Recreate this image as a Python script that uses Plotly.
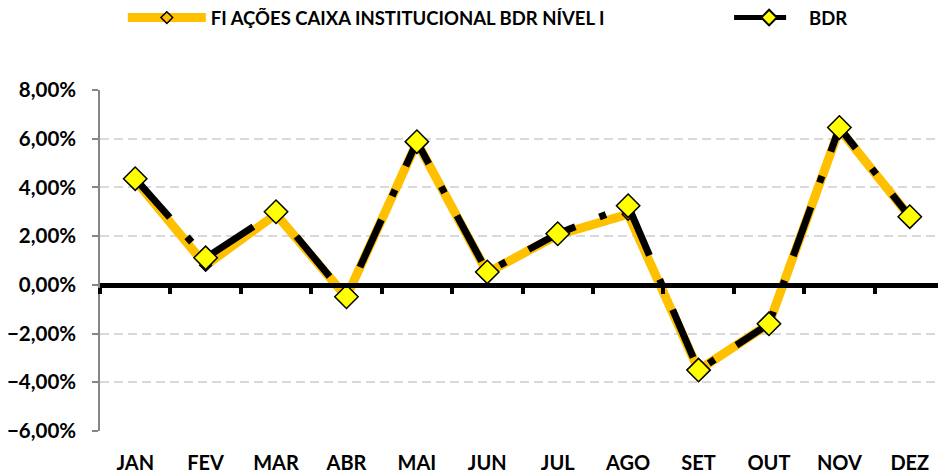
import plotly.graph_objects as go

months = ["JAN", "FEV", "MAR", "ABR", "MAI", "JUN", "JUL", "AGO", "SET", "OUT", "NOV", "DEZ"]
fi_values = [0.0430, 0.0080, 0.0290, -0.0050, 0.0585, 0.0050, 0.0205, 0.0290, -0.0350, -0.0160, 0.0640, 0.0280]
bdr_values = [0.0436, 0.0111, 0.0300, -0.0049, 0.0588, 0.0053, 0.0210, 0.0325, -0.0350, -0.0160, 0.0646, 0.0280]
y_ticks = [0.08, 0.06, 0.04, 0.02, 0.0, -0.02, -0.04, -0.06]

FONT = "Lato"
y_min, y_max = -0.06, 0.08
zero_pos = (0 - y_min) / (y_max - y_min)

fig = go.Figure()
fig.add_trace(go.Scatter(
    x=months, y=fi_values, name="FI AÇÕES CAIXA INSTITUCIONAL BDR NÍVEL I",
    mode="lines+markers",
    line=dict(color="#FFC000", width=9),
    marker=dict(symbol="diamond", size=9, color="#FFC000", line=dict(color="black", width=1.5)),
    legend="legend",
))
fig.add_trace(go.Scatter(
    x=months, y=bdr_values, name="BDR",
    mode="lines+markers",
    line=dict(color="black", width=7, dash="52px,26px,7px,26px"),
    marker=dict(symbol="diamond", size=18, color="#FFFF00", line=dict(color="black", width=1.5)),
    legend="legend2",
))
fig.add_trace(go.Scatter(
    x=months, y=[0] * len(months), xaxis="x2", mode="lines",
    line=dict(width=0), opacity=0, showlegend=False, hoverinfo="skip",
))

fig.update_layout(
    width=938, height=468,
    margin=dict(l=92, r=1, t=82, b=45, autoexpand=False),
    paper_bgcolor="white", plot_bgcolor="white",
    separators=",.",
    font=dict(family=FONT, size=18, color="black"),
    xaxis=dict(
        type="category", categoryarray=months, range=[-0.5, 11.5],
        showgrid=False, showline=False, ticks="", zeroline=False,
        tickfont=dict(family=FONT, size=20, weight="bold"),
        ticklabelstandoff=18,
    ),
    xaxis2=dict(
        type="category", categoryarray=months, range=[-0.5, 11.5],
        overlaying="x", anchor="free", position=zero_pos,
        showgrid=False, showline=True, linecolor="black", linewidth=5,
        ticks="outside", tickson="boundaries", ticklen=6, tickwidth=4, tickcolor="black",
        showticklabels=False, zeroline=False,
    ),
    yaxis=dict(
        range=[y_min, y_max], tickvals=y_ticks, tickformat=".2%",
        showgrid=True, gridcolor="#D9D9D9", gridwidth=2, griddash="9px,5px",
        showline=True, linecolor="#868686", linewidth=1.5,
        ticks="outside", ticklen=6, tickcolor="#868686", tickwidth=1.5,
        zeroline=False,
        tickfont=dict(family=FONT, size=20.5, weight="bold"),
        ticklabelstandoff=12,
    ),
    legend=dict(
        orientation="h", x=0.027, y=1.211, xanchor="left", yanchor="middle",
        font=dict(family=FONT, size=18.5, weight="bold"), itemwidth=78,
        bgcolor="rgba(0,0,0,0)",
    ),
    legend2=dict(
        orientation="h", x=0.7445, y=1.211, xanchor="left", yanchor="middle",
        font=dict(family=FONT, size=18.5, weight="bold"), itemwidth=70,
        itemsizing="constant",
        bgcolor="rgba(0,0,0,0)",
    ),
    showlegend=True,
)

fig.write_html("out.html")
